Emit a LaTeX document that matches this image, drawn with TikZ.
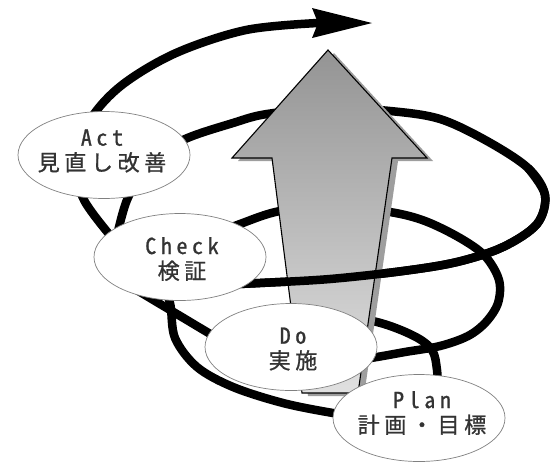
\documentclass[tikz,border=0pt]{standalone}
\usepackage{fontspec}
\usetikzlibrary{shapes.geometric}
\newfontfamily\jpfont[LetterSpace=21,FakeBold=1]{Noto Sans CJK JP}
\newfontfamily\latfont[LetterSpace=21,RawFeature=+hwid,FakeBold=1]{Noto Sans CJK JP}
\tikzset{
  coil/.style={line width=8.5pt, draw=black, line cap=butt},
  phase/.style={ellipse, draw=black!50, line width=0.7pt, fill=white,
    minimum width=172pt, minimum height=87pt, inner sep=0pt},
  lbl/.style={align=center, text=black!80, inner sep=0pt,
    font=\fontsize{22}{25}\selectfont},
  bigarrow/.style={draw=black, line width=1.1pt, line join=miter,
    top color=black!42, bottom color=black!12}
}
\begin{document}
\begin{tikzpicture}[x=1pt,y=-1pt]
\useasboundingbox (0,0) rectangle (551,461);
% ---- strands behind the big arrow
\draw[coil] plot[smooth, tension=0.55] coordinates {(114,240) (84,200) (75,162) (90,120) (122,85) (176,53) (246,30) (318,23)};
\fill[black] (312,8) -- (372,23) -- (312,38) -- (318,23) -- cycle;
\draw[coil] plot[smooth, tension=0.55] coordinates {(116,240) (127,200) (148,164) (183,140) (233,123) (267,114) (330,108) (390,111) (440,119) (487,141) (528,168) (545,195) (537,224) (503,247) (457,262) (403,271) (330,279) (260,283) (215,285)};
\draw[coil] plot[smooth, tension=0.55] coordinates {(200,240) (240,224) (280,211) (335,206) (390,212) (425,221) (460,238) (485,256) (499,280) (498,303) (486,322) (468,336) (440,346) (405,352) (377,357) (345,362)};
\draw[coil] plot[smooth, tension=0.55] coordinates {(438,395) (437,370) (432,350) (414,336) (377,322) (320,312)};
% ---- big arrow with shadow
\begin{scope}[shift={(6,3)}]
\fill[black!38] (328,50) -- (427,158) -- (392,158) -- (358,393) -- (302,393) -- (272,158) -- (232,158) -- cycle;
\end{scope}
\path[bigarrow] (328,50) -- (427,158) -- (392,158) -- (358,393) -- (302,393) -- (272,158) -- (232,158) -- cycle;
% ---- strands in front of the big arrow
\draw[coil] plot[smooth, tension=0.55] coordinates {(528,168) (545,195) (537,224) (503,247) (457,262) (403,271) (330,279) (260,283) (215,285)};
\draw[coil] plot[smooth, tension=0.55] coordinates {(160,280) (170,303) (175,338) (197,367) (233,387) (283,403) (333,413) (360,416)};
\draw[coil] (222,341) -- (135,289);
% ---- phases
\node[phase] (act) at (104,155) {};
\node[phase] (check) at (180,257) {};
\node[phase] (do) at (291,347) {};
\node[phase] (plan) at (419,418) {};
\node[lbl] (acttext) at (102,151) {{\latfont Act}\\{\jpfont 見直し改善}};
\node[lbl] (checktext) at (182,259) {{\latfont Check}\\{\jpfont 検証}};
\node[lbl] (dotext) at (293,349) {{\latfont Do}\\{\jpfont 実施}};
\node[lbl] (plantext) at (422,413) {{\latfont Plan}\\{\jpfont 計画・目標}};
\end{tikzpicture}
\end{document}
